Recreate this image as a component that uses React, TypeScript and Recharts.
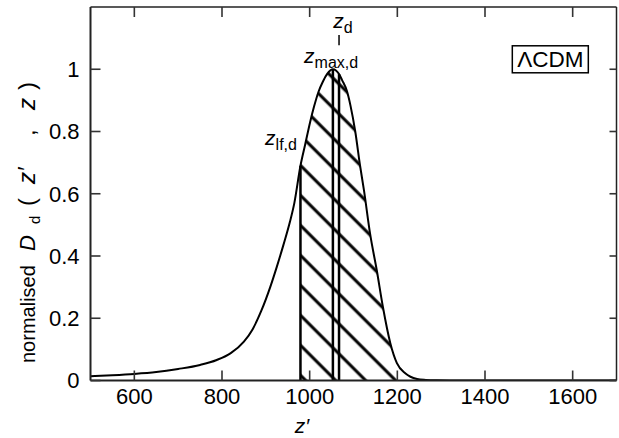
import React from "react";
import {
  ComposedChart,
  Line,
  Area,
  XAxis,
  YAxis,
  ReferenceLine,
  ReferenceDot,
} from "recharts";

// ---- data ----
const zValues = [
  500, 550, 600, 650, 700, 750, 788, 820, 850, 870, 890, 910, 925, 940, 955, 965,
  979, 990, 1001, 1010, 1020, 1030, 1040, 1053, 1060, 1067, 1074, 1085, 1093,
  1104, 1115, 1124, 1138, 1153, 1167, 1184, 1199, 1218, 1230, 1245, 1265, 1290,
  1320, 1400, 1500, 1600, 1700,
];
const dValues = [
  0.014, 0.017, 0.021, 0.027, 0.037, 0.05, 0.066, 0.088, 0.125, 0.165, 0.225, 0.3,
  0.365, 0.435, 0.51, 0.57, 0.69, 0.76, 0.83, 0.88, 0.927, 0.96, 0.985, 1.0, 0.996,
  0.985, 0.965, 0.93, 0.884, 0.8, 0.69, 0.61, 0.47, 0.355, 0.237, 0.12, 0.056,
  0.023, 0.012, 0.005, 0.002, 0.0005, 0, 0, 0, 0, 0,
];
const zLf = 979;
const zMax = 1053;
const zD = 1067;
const xDomain = [500, 1700];
const yDomain = [0, 1.2];
const xTicks = [600, 800, 1000, 1200, 1400, 1600];
const yTicks = [0, 0.2, 0.4, 0.6, 0.8, 1];
const yTickLabels = ["0", "0.2", "0.4", "0.6", "0.8", "1"];

const valAt = (z: number) => dValues[zValues.indexOf(z)];

const data = zValues.map((z, i) => ({
  z,
  d: dValues[i],
  h: z >= zLf ? dValues[i] : null,
}));

const FONT = "'Liberation Sans', Arial, Helvetica, sans-serif";
const FS = 21;
const TICK_FS = 22;
const TICK_COLOR = "#333";
const TW = 1.6;
const TL = 10; // inward tick length (px)

const BottomTick = (p: any) => {
  const gap = 7.5;
  const ay = p.y - gap;
  return (
    <g>
      <path d={`M${p.x},${ay}V${ay - TL}`} stroke={TICK_COLOR} strokeWidth={TW} fill="none" />
      <text x={p.x} y={p.y} dy="0.71em" textAnchor="middle" fontFamily={FONT} fontSize={TICK_FS} fill="#000">
        {p.payload.value}
      </text>
    </g>
  );
};

const LeftTick = (p: any) => {
  const gap = 11;
  const ax = p.x + gap;
  const v = p.payload.value;
  return (
    <g>
      <path d={`M${ax},${p.y}H${ax + TL}`} stroke={TICK_COLOR} strokeWidth={TW} fill="none" />
      <text x={p.x} y={p.y} dy="0.36em" textAnchor="end" fontFamily={FONT} fontSize={TICK_FS} fill="#000">
        {yTickLabels[yTicks.indexOf(v)] ?? String(v)}
      </text>
    </g>
  );
};

const TopTick = (p: any) => (
  <path d={`M${p.x},${p.y}V${p.y + TL}`} stroke={TICK_COLOR} strokeWidth={TW} fill="none" />
);

const RightTick = (p: any) => (
  <path d={`M${p.x},${p.y}H${p.x - 7}`} stroke={TICK_COLOR} strokeWidth={TW} fill="none" />
);

const subLabel =
  (main: string, sub: string, anchor: "start" | "middle" | "end") =>
  (props: any) => {
    const vb = props.viewBox || {};
    const x = (vb.x ?? 0) + (vb.width ?? 0) / 2;
    const y = (vb.y ?? 0) + (vb.height ?? 0) / 2;
    return (
      <text x={x} y={y} textAnchor={anchor} fontFamily={FONT} fontSize={FS} fill="#000">
        <tspan fontStyle="italic">{main}</tspan>
        <tspan dy={5} fontSize={16}>
          {sub}
        </tspan>
      </text>
    );
  };

const modelLabel = (props: any) => {
  const vb = props.viewBox || {};
  const x = (vb.x ?? 0) + (vb.width ?? 0) / 2;
  const y = (vb.y ?? 0) + (vb.height ?? 0) / 2;
  return (
    <g>
      <rect x={x - 38} y={y - 13.5} width={76} height={27} fill="#fff" stroke="#000" strokeWidth={1.5} />
      <text x={x} y={y + 8} textAnchor="middle" fontFamily={FONT} fontSize={22.5} fill="#000">
        ΛCDM
      </text>
    </g>
  );
};

const YLabel = () => {
  const b = 35;
  return (
    <text transform="rotate(-90)" fontFamily={FONT} fontSize={20} fill="#000">
      <tspan x={-363} y={b}>normalised</tspan>
      <tspan x={-251} y={b} fontSize={22} fontStyle="italic">D</tspan>
      <tspan x={-224} y={b + 5} fontSize={15}>d</tspan>
      <tspan x={-206} y={b} fontSize={24}>(</tspan>
      <tspan x={-184} y={b} fontSize={24} fontStyle="italic">z′</tspan>
      <tspan x={-136} y={b} fontSize={24}>,</tspan>
      <tspan x={-110} y={b} fontSize={24} fontStyle="italic">z</tspan>
      <tspan x={-90} y={b} fontSize={24}>)</tspan>
    </text>
  );
};

const XLabel = () => (
  <text x={302} y={433} textAnchor="middle" fontFamily={FONT} fontSize={FS} fontStyle="italic" fill="#000">
    z′
  </text>
);

export default function App() {
  return (
    <div style={{ position: "absolute", left: 0, top: 0, background: "#fff" }}>
      <ComposedChart
        width={619}
        height={438}
        data={data}
        margin={{ top: 6, right: 1.5, left: 0, bottom: 0 }}
      >
        <defs>
          <pattern
            id="hatch"
            patternUnits="userSpaceOnUse"
            width={10}
            height={21.2}
            patternTransform="rotate(45)"
          >
            <line x1={-1} y1={10.5} x2={11} y2={10.5} stroke="#000" strokeWidth={3} />
          </pattern>
        </defs>
        <XAxis
          xAxisId="b"
          dataKey="z"
          type="number"
          domain={xDomain}
          ticks={xTicks}
          allowDataOverflow
          interval={0}
          height={57.5}
          tickSize={0}
          tickMargin={7.5}
          tick={<BottomTick />}
          tickLine={false}
          axisLine={{ stroke: "#222", strokeWidth: 2 }}
          label={<XLabel />}
        />
        <XAxis
          xAxisId="t"
          orientation="top"
          dataKey="z"
          type="number"
          domain={xDomain}
          ticks={xTicks}
          allowDataOverflow
          interval={0}
          height={1}
          tickSize={0}
          tickMargin={0}
          tick={<TopTick />}
          tickLine={false}
          axisLine={{ stroke: "#222", strokeWidth: 1.5 }}
        />
        <YAxis
          yAxisId="l"
          type="number"
          domain={yDomain}
          ticks={yTicks}
          allowDataOverflow
          interval={0}
          width={90.5}
          tickSize={0}
          tickMargin={11}
          tick={<LeftTick />}
          tickLine={false}
          axisLine={{ stroke: "#222", strokeWidth: 2 }}
          label={<YLabel />}
        />
        <YAxis
          yAxisId="r"
          orientation="right"
          type="number"
          domain={yDomain}
          ticks={yTicks}
          allowDataOverflow
          interval={0}
          width={1}
          tickSize={0}
          tickMargin={0}
          tick={<RightTick />}
          tickLine={false}
          axisLine={{ stroke: "#222", strokeWidth: 1.5 }}
        />
        <Area
          xAxisId="b"
          yAxisId="l"
          dataKey="h"
          type="monotone"
          fill="url(#hatch)"
          fillOpacity={1}
          stroke="none"
          isAnimationActive={false}
          activeDot={false}
          dot={false}
        />
        <Line
          xAxisId="b"
          yAxisId="l"
          dataKey="d"
          type="monotone"
          stroke="#000"
          strokeWidth={2}
          dot={false}
          activeDot={false}
          isAnimationActive={false}
        />
        <ReferenceLine
          xAxisId="b"
          yAxisId="l"
          segment={[{ x: zLf, y: 0 }, { x: zLf, y: valAt(zLf) }]}
          stroke="#000"
          strokeWidth={2.5}
        />
        <ReferenceLine
          xAxisId="b"
          yAxisId="l"
          segment={[{ x: zMax, y: 0 }, { x: zMax, y: valAt(zMax) }]}
          stroke="#000"
          strokeWidth={2.5}
        />
        <ReferenceLine
          xAxisId="b"
          yAxisId="l"
          segment={[{ x: zD, y: 0 }, { x: zD, y: valAt(zD) }]}
          stroke="#000"
          strokeWidth={2.5}
        />
        <ReferenceLine
          xAxisId="b"
          yAxisId="l"
          segment={[{ x: zD, y: 1.077 }, { x: zD, y: 1.11 }]}
          stroke="#000"
          strokeWidth={1.5}
        />
        <ReferenceDot
          xAxisId="b"
          yAxisId="l"
          x={1076}
          y={1.132}
          r={1}
          fill="none"
          stroke="none"
          label={{ content: subLabel("z", "d", "middle") }}
        />
        <ReferenceDot
          xAxisId="b"
          yAxisId="l"
          x={1049}
          y={1.019}
          r={1}
          fill="none"
          stroke="none"
          label={{ content: subLabel("z", "max,d", "middle") }}
        />
        <ReferenceDot
          xAxisId="b"
          yAxisId="l"
          x={971}
          y={0.756}
          r={1}
          fill="none"
          stroke="none"
          label={{ content: subLabel("z", "lf,d", "end") }}
        />
        <ReferenceDot
          xAxisId="b"
          yAxisId="l"
          x={1549}
          y={1.032}
          r={1}
          fill="none"
          stroke="none"
          label={{ content: modelLabel }}
        />
      </ComposedChart>
    </div>
  );
}
